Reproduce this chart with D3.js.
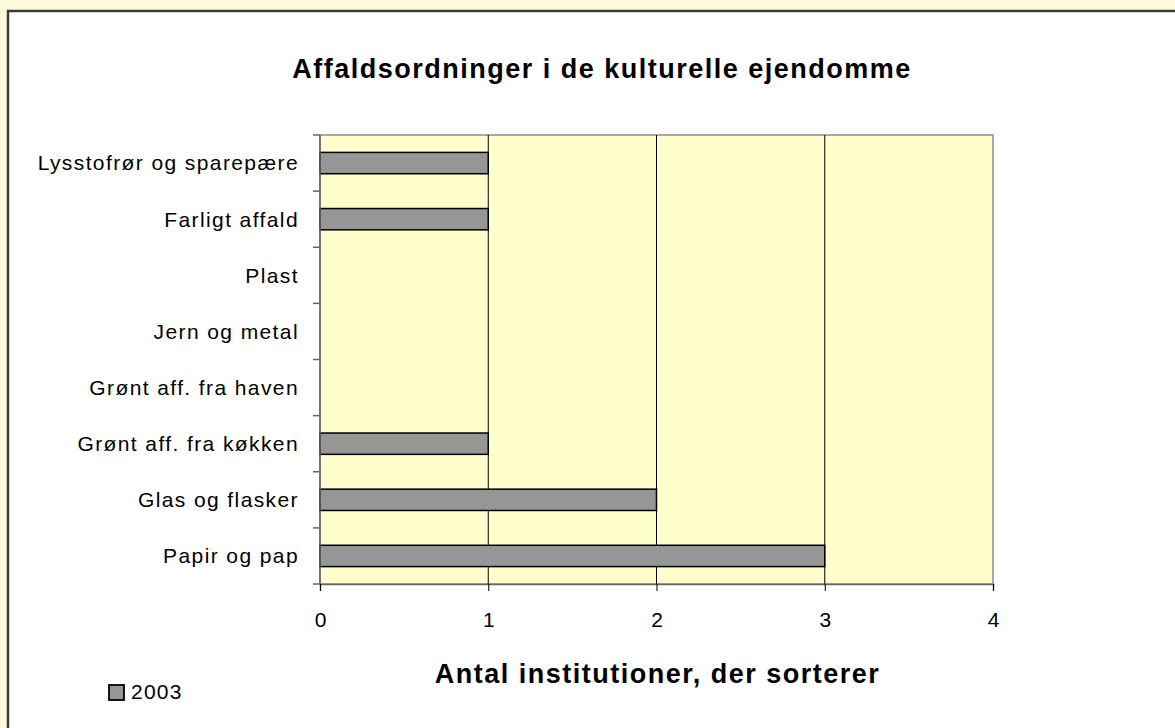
<!DOCTYPE html>
<html>
<head>
<meta charset="utf-8">
<script src="https://cdn.jsdelivr.net/npm/d3@7"></script>
<style>
  body { margin: 0; background: #fffadc; }
  svg { display: block; font-family: "Liberation Sans", Arial, sans-serif; }
</style>
</head>
<body>
<svg id="chart"></svg>
<script>
// data, bottom to top as in the picture
const categories = [
  'Papir og pap',
  'Glas og flasker',
  'Grønt aff. fra køkken',
  'Grønt aff. fra haven',
  'Jern og metal',
  'Plast',
  'Farligt affald',
  'Lysstofrør og sparepære'
]
const values2003 = [3, 2, 1, 0, 0, 0, 1, 1]
const xTicks = [0, 1, 2, 3, 4]
const seriesName = '2003'

const w = 1175
const h = 728
const margin = { top: 135, right: 182, bottom: 144, left: 320 }

const svg = d3.select('#chart')
  .attr('width', w)
  .attr('height', h)

// outer frame
svg.append('rect')
  .attr('x', 8).attr('y', 11)
  .attr('width', w + 10).attr('height', h + 10)
  .attr('fill', '#fff')
  .attr('stroke', '#3c3c34')
  .attr('stroke-width', 2.5)

const xScale = d3.scaleLinear()
  .domain([0, 4])
  .range([margin.left, w - margin.right])

// top-to-bottom band order
const yScale = d3.scaleBand()
  .domain(categories.slice().reverse())
  .range([margin.top, h - margin.bottom])
  .paddingInner(0.62)
  .paddingOuter(0.31)

const data = categories.map((c, i) => ({ cat: c, value: values2003[i] }))

// plot area
svg.append('rect')
  .attr('x', xScale(0)).attr('y', margin.top)
  .attr('width', xScale(4) - xScale(0))
  .attr('height', h - margin.bottom - margin.top)
  .attr('fill', '#ffffcc')
  .attr('stroke', '#8c8c8c')
  .attr('stroke-width', 1.5)

// gridlines
svg.append('g')
  .selectAll('line')
  .data(xTicks.filter(t => t > 0 && t < 4))
  .join('line')
  .attr('x1', d => xScale(d)).attr('x2', d => xScale(d))
  .attr('y1', margin.top).attr('y2', h - margin.bottom)
  .attr('stroke', '#000')
  .attr('stroke-width', 1)

// bars
svg.append('g')
  .selectAll('rect')
  .data(data.filter(d => d.value > 0))
  .join('rect')
  .attr('x', xScale(0))
  .attr('y', d => yScale(d.cat))
  .attr('width', d => xScale(d.value) - xScale(0))
  .attr('height', yScale.bandwidth())
  .attr('fill', '#969696')
  .attr('stroke', '#000')
  .attr('stroke-width', 1.5)

// x axis
const xAxis = d3.axisBottom(xScale)
  .tickValues(xTicks)
  .tickFormat(d3.format('d'))
  .tickSize(7)
  .tickPadding(0)

const gx = svg.append('g')
  .attr('transform', `translate(0, ${h - margin.bottom})`)
  .call(xAxis)
gx.select('.domain').attr('stroke', '#666').attr('stroke-width', 1.5)
gx.selectAll('.tick line').attr('stroke', '#000')
gx.selectAll('text')
  .attr('y', 43).attr('dy', null)
  .attr('font-size', 21)
  .attr('font-family', 'Liberation Sans, Arial, sans-serif')
  .attr('fill', '#000')

// y axis: ticks at category boundaries
const step = yScale.step()
const boundaries = d3.range(categories.length + 1).map(i => margin.top + i * step)
svg.append('g')
  .selectAll('line')
  .data(boundaries)
  .join('line')
  .attr('x1', xScale(0) - 7).attr('x2', xScale(0))
  .attr('y1', d => d).attr('y2', d => d)
  .attr('stroke', '#666')
  .attr('stroke-width', 1.5)
svg.append('line')
  .attr('x1', xScale(0)).attr('x2', xScale(0))
  .attr('y1', margin.top).attr('y2', h - margin.bottom)
  .attr('stroke', '#666')
  .attr('stroke-width', 1.5)

svg.append('g')
  .selectAll('text')
  .data(categories)
  .join('text')
  .attr('x', xScale(0) - 21)
  .attr('y', d => yScale(d) + yScale.bandwidth() / 2)
  .attr('dy', '0.35em')
  .attr('text-anchor', 'end')
  .attr('font-size', 21)
  .attr('letter-spacing', 1.4)
  .text(d => d)

// title
svg.append('text')
  .attr('x', 602).attr('y', 78)
  .attr('text-anchor', 'middle')
  .attr('font-size', 27)
  .attr('font-weight', 'bold')
  .attr('letter-spacing', 1.5)
  .text('Affaldsordninger i de kulturelle ejendomme')

// axis title
svg.append('text')
  .attr('x', (xScale(0) + xScale(4)) / 2 + 1).attr('y', 683)
  .attr('text-anchor', 'middle')
  .attr('font-size', 27)
  .attr('font-weight', 'bold')
  .attr('letter-spacing', 1.5)
  .text('Antal institutioner, der sorterer')

// legend
const legend = svg.append('g').attr('transform', 'translate(109, 685)')
legend.append('rect')
  .attr('width', 15).attr('height', 15)
  .attr('fill', '#969696')
  .attr('stroke', '#000')
  .attr('stroke-width', 1.8)
legend.append('text')
  .attr('x', 22).attr('y', 14)
  .attr('font-size', 21)
  .attr('letter-spacing', 1.2)
  .text(seriesName)
</script>
</body>
</html>
